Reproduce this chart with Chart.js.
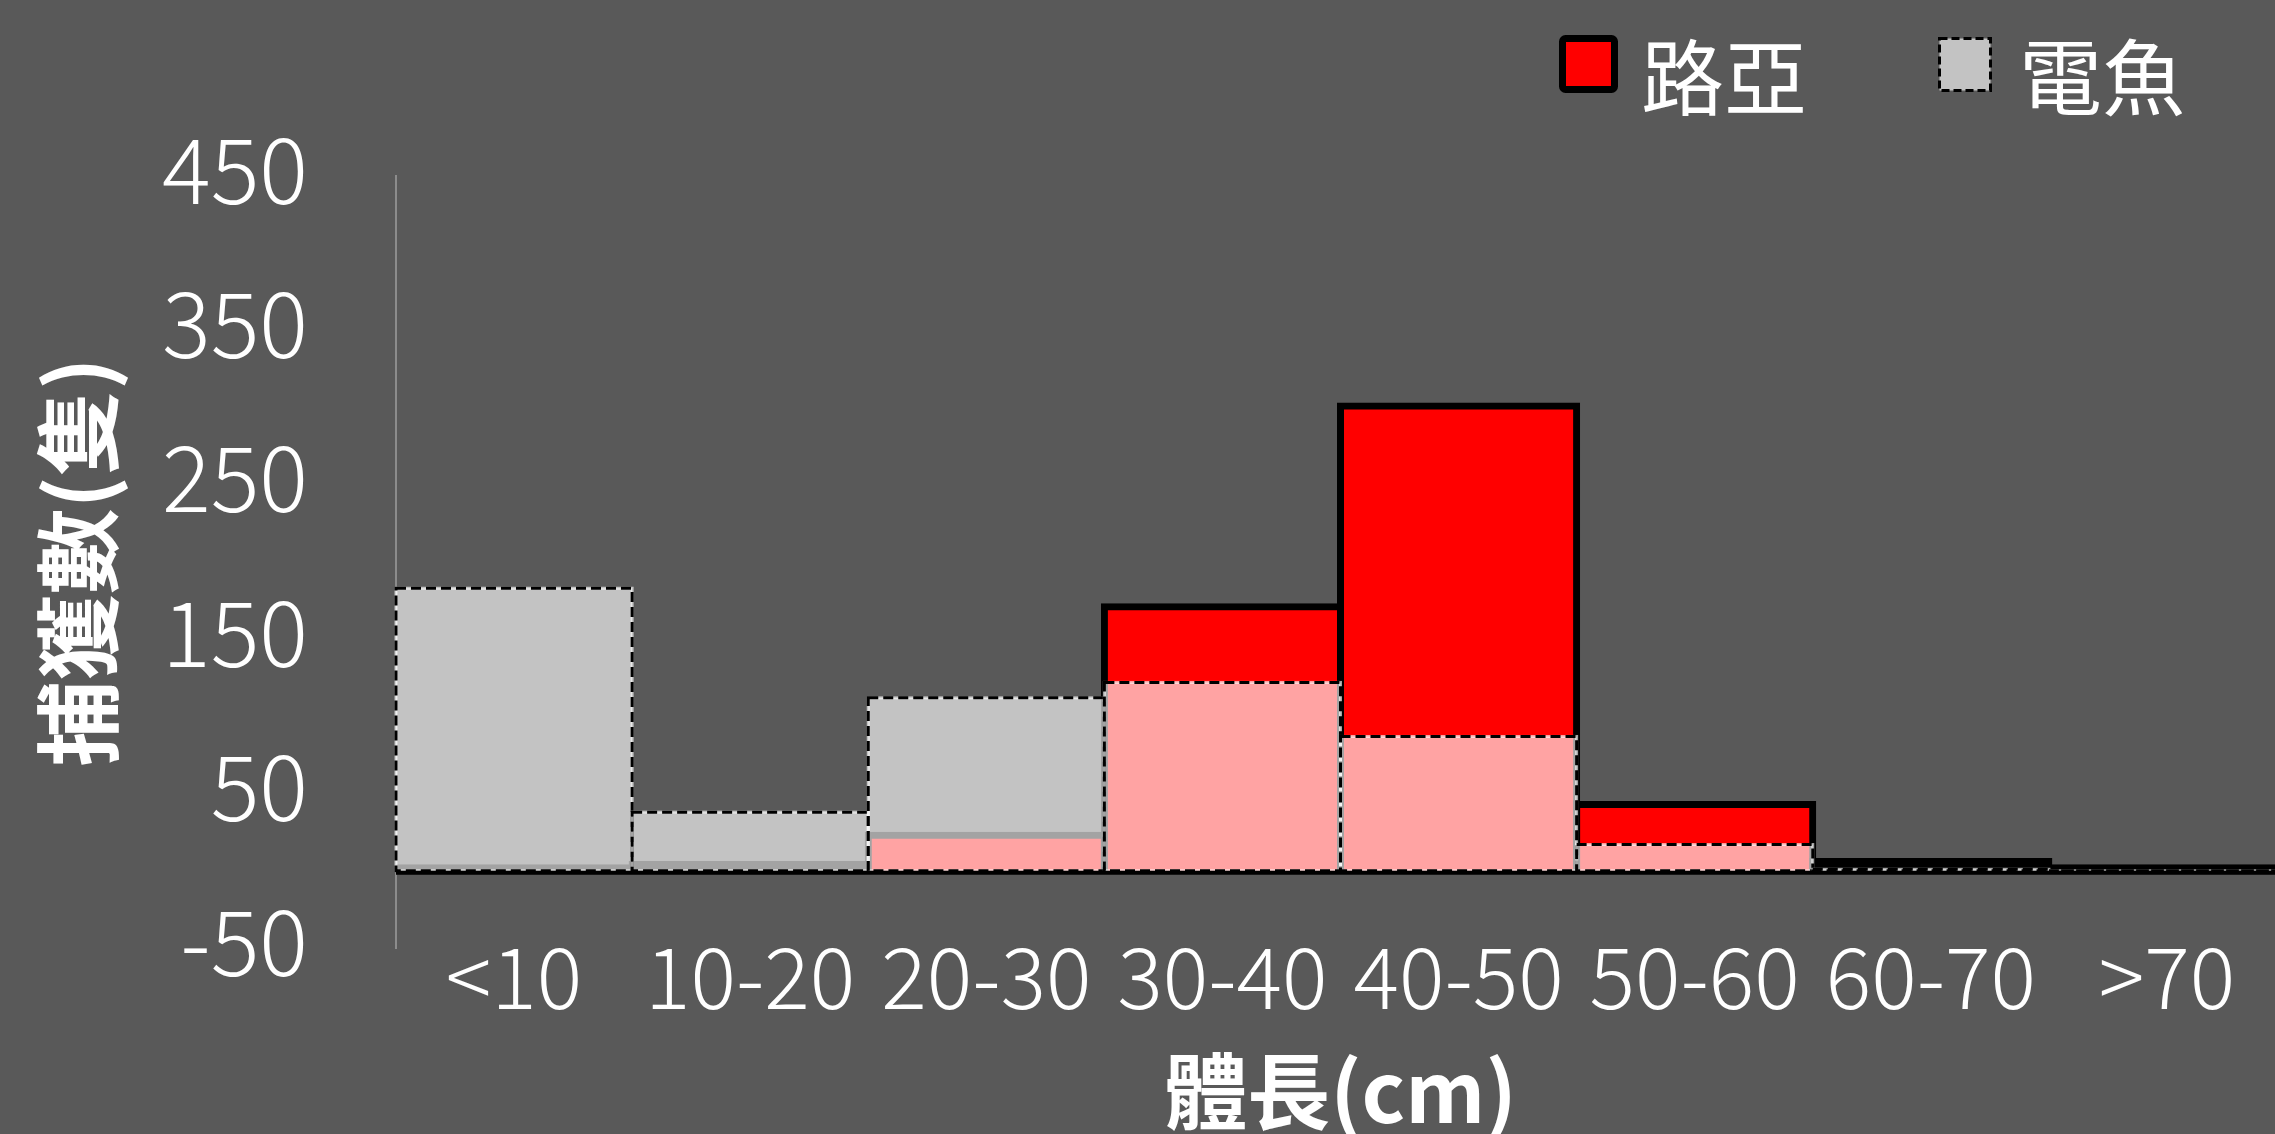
<!DOCTYPE html>
<html>
<head>
<meta charset="utf-8">
<script src="https://cdn.jsdelivr.net/npm/chart.js@4.4.1/dist/chart.umd.min.js"></script>
<style>
    html, body { margin: 0; padding: 0; background: #595959; overflow: hidden; }
    #graphe-container { width: 2290px; height: 1180px; }
</style>
</head>
<body>
<div id="graphe-container"><canvas id="graphLongueur" width="2290" height="1180"></canvas></div>
<script>
var categories = ['<10', '10-20', '20-30', '30-40', '40-50', '50-60', '60-70', '>70'];
var luyaVal = [2, 4, 23, 171, 301, 43, 6, 2];
var dianyuVal = [183, 38, 112, 122, 87, 17, 1, 0];
var yTicks = [-50, 50, 150, 250, 350, 450];
var serieNoms = ['路亞', '電魚'];
var titreY = '捕獲數(隻)';
var titreX = '體長(cm)';

var police = "'Noto Sans CJK TC', 'Noto Sans', sans-serif";
var rouge = '#FF0000';
var blancTransparent = 'rgba(255,255,255,0.64)';

// bordures pointillees des barres grises + ligne du zero
var pluginBordures = {
    id: 'bordures',
    afterDatasetsDraw: function (chart) {
        var ctx = chart.ctx;
        var meta = chart.getDatasetMeta(1);
        ctx.save();
        for (var i = 0; i < meta.data.length; i++) {
            var p = meta.data[i].getProps(['x', 'y', 'base', 'width'], true);
            var gauche = p.x - p.width / 2;
            var haut = Math.min(p.y, p.base);
            var h = Math.abs(p.base - p.y);
            ctx.lineWidth = 3;
            ctx.setLineDash([]);
            ctx.strokeStyle = blancTransparent;
            ctx.strokeRect(gauche, haut, p.width, h);
            ctx.setLineDash([10, 5]);
            ctx.strokeStyle = '#000';
            ctx.strokeRect(gauche, haut, p.width, h);
        }
        var y0 = chart.scales.y.getPixelForValue(0);
        ctx.setLineDash([]);
        ctx.strokeStyle = '#000';
        ctx.lineWidth = 4;
        ctx.beginPath();
        ctx.moveTo(chart.chartArea.left, y0 + 2);
        ctx.lineTo(chart.chartArea.right, y0 + 2);
        ctx.stroke();
        ctx.restore();
    }
};

// legende dessinee a la main (boites encadrees)
var pluginLegende = {
    id: 'legende',
    afterDraw: function (chart) {
        var ctx = chart.ctx;
        ctx.save();
        ctx.lineJoin = 'round';
        ctx.beginPath();
        ctx.roundRect(1562.5, 38.5, 52, 51, 3);
        ctx.fillStyle = rouge;
        ctx.fill();
        ctx.lineWidth = 7;
        ctx.strokeStyle = '#000';
        ctx.stroke();

        ctx.lineJoin = 'miter';
        ctx.fillStyle = '#C3C3C3';
        ctx.fillRect(1939.5, 38.5, 51, 52);
        ctx.lineWidth = 3;
        ctx.setLineDash([8, 4]);
        ctx.strokeRect(1939.5, 38.5, 51, 52);
        ctx.setLineDash([]);

        ctx.fillStyle = '#FFFFFF';
        ctx.font = '83px ' + police;
        ctx.textBaseline = 'middle';
        ctx.textAlign = 'left';
        ctx.fillText(chart.data.datasets[0].label, 1641, 77);
        ctx.fillText(chart.data.datasets[1].label, 2019, 77);
        ctx.restore();
    }
};

new Chart(document.getElementById('graphLongueur').getContext('2d'), {
    type: 'bar',
    data: {
        labels: categories,
        datasets: [{
            label: serieNoms[0],
            data: luyaVal,
            backgroundColor: function (c) { return c.raw < 9 ? '#000' : rouge; },
            borderColor: '#000',
            borderWidth: 7,
            borderSkipped: 'start',
            inflateAmount: 3.5,
            order: 1
        }, {
            label: serieNoms[1],
            data: dianyuVal,
            backgroundColor: blancTransparent,
            borderWidth: 0,
            inflateAmount: 0,
            order: 0
        }]
    },
    options: {
        responsive: false,
        animation: false,
        grouped: false,
        barPercentage: 1,
        categoryPercentage: 1,
        layout: { padding: { top: 176, right: 5, left: 0, bottom: 0 } },
        plugins: {
            legend: { display: false },
            tooltip: { enabled: false }
        },
        scales: {
            x: {
                grid: { display: false, drawTicks: false },
                border: { display: false },
                ticks: {
                    color: '#FFFFFF',
                    font: { family: police, size: 85, weight: 300 },
                    padding: -22,
                    maxRotation: 0,
                    autoSkip: false
                },
                title: {
                    display: true,
                    text: titreX,
                    color: '#FFFFFF',
                    font: { family: police, size: 83, weight: 'bold' },
                    padding: { top: 0, bottom: 39 }
                },
                afterFit: function (s) { s.height = 1180 - 948; }
            },
            y: {
                min: -50,
                max: 450,
                grid: { display: false, drawTicks: false },
                border: { display: true, color: '#8C8C8C', width: 2 },
                afterBuildTicks: function (s) {
                    s.ticks = yTicks.map(function (v) { return { value: v }; });
                },
                ticks: {
                    color: '#FFFFFF',
                    font: { family: police, size: 91, weight: 300 },
                    padding: 88,
                    labelOffset: -7
                },
                title: {
                    display: true,
                    text: titreY,
                    color: '#FFFFFF',
                    font: { family: police, size: 86, weight: 'bold' },
                    padding: { top: 27, bottom: 0 }
                },
                afterFit: function (s) { s.width = 396; }
            }
        }
    },
    plugins: [pluginBordures, pluginLegende]
});
</script>
</body>
</html>
